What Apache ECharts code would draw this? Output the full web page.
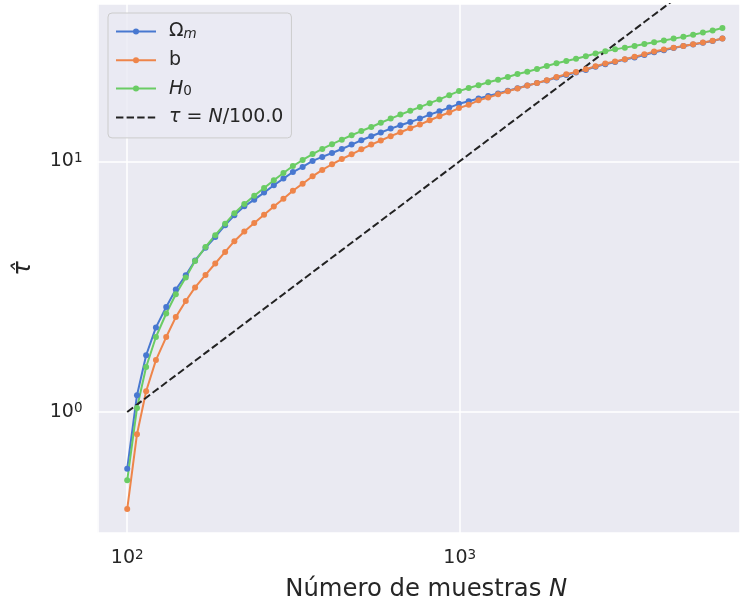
<!DOCTYPE html>
<html>
<head>
<meta charset="utf-8">
<script src="https://cdn.jsdelivr.net/npm/echarts@6/dist/echarts.min.js"></script>
<style>
  html, body { margin: 0; padding: 0; background: #ffffff; }
  #chart { width: 740px; height: 603px; }
</style>
</head>
<body>
<div id="chart"></div>
<script>
// Chain lengths N at which the autocorrelation time was estimated (log-spaced)
const sampleSizes = [100, 107, 114, 122, 131, 140, 150, 160, 172, 184, 197, 210, 225, 241, 258, 276,
  295, 315, 337, 361, 386, 413, 442, 473, 506, 542, 579, 620, 663, 710, 759, 812, 869, 930, 995,
  1064, 1139, 1218, 1304, 1395, 1492, 1597, 1708, 1828, 1955, 2092, 2238, 2395, 2562, 2741, 2933,
  3138, 3357, 3592, 3843, 4112, 4399, 4707, 5036, 5388, 5764, 6167];

// Estimated autocorrelation time for each parameter
const tauOmegaM = [0.594, 1.166, 1.683, 2.174, 2.624, 3.08, 3.51, 4.02, 4.52, 4.99, 5.56, 6.09,
  6.61, 7.03, 7.5, 8.02, 8.53, 9.06, 9.49, 10.03, 10.41, 10.79, 11.19, 11.66, 12.13, 12.59, 13.02,
  13.5, 13.92, 14.35, 14.8, 15.35, 15.83, 16.37, 16.95, 17.35, 17.8, 18.2, 18.65, 19.1, 19.55,
  20.05, 20.5, 21.0, 21.6, 22.1, 22.6, 23.15, 23.8, 24.4, 24.9, 25.45, 25.95, 26.55, 27.2, 27.75,
  28.3, 28.8, 29.25, 29.7, 30.2, 30.85];

const tauB = [0.41, 0.815, 1.21, 1.61, 1.99, 2.39, 2.77, 3.14, 3.52, 3.91, 4.35, 4.8, 5.25, 5.67,
  6.12, 6.6, 7.09, 7.63, 8.14, 8.71, 9.24, 9.73, 10.21, 10.66, 11.16, 11.66, 12.1, 12.59, 13.06,
  13.55, 14.01, 14.58, 15.12, 15.65, 16.3, 16.8, 17.5, 17.95, 18.5, 19.01, 19.5, 20.04, 20.53,
  21.04, 21.68, 22.23, 22.71, 23.28, 23.95, 24.55, 25.0, 25.55, 26.1, 26.7, 27.4, 27.9, 28.4,
  28.85, 29.3, 29.75, 30.25, 30.9];

const tauH0 = [0.534, 1.037, 1.512, 1.991, 2.47, 2.95, 3.44, 4.0, 4.55, 5.07, 5.64, 6.2, 6.76,
  7.28, 7.82, 8.4, 8.98, 9.57, 10.12, 10.68, 11.2, 11.7, 12.2, 12.7, 13.2, 13.7, 14.25, 14.8,
  15.35, 15.9, 16.45, 17.05, 17.65, 18.35, 19.05, 19.6, 20.1, 20.65, 21.15, 21.7, 22.3, 22.75,
  23.35, 24.0, 24.6, 25.1, 25.65, 26.25, 26.9, 27.45, 27.95, 28.4, 28.85, 29.35, 29.85, 30.35,
  30.85, 31.35, 31.95, 32.6, 33.25, 34.0];

// Reference line tau = N / divisor
const refDivisor = 100.0;

// Decade tick labels: value and exponent
const xTickValues = [100, 1000];
const xTickExps = ['2', '3'];
const yTickValues = [1, 10];
const yTickExps = ['0', '1'];

// Legend labels (rich text)
const legendLabels = {
  omega: '{r|Ω}{subi|m}',
  b: '{r|b}',
  h0: '{it|H}{sub|0}',
  ref: '{it|τ}{r| = }{it|N}{r|/100.0}'
};

const COLORS = { blue: '#4878D0', orange: '#EE854A', green: '#6ACC64', ref: '#222222' };
const FONT = 'DejaVu Sans';
const TEXT = '#262626';

function decadeFormatter(values, exps) {
  return function (v) {
    for (let i = 0; i < values.length; i++) {
      if (Math.abs(Math.log10(v) - Math.log10(values[i])) < 1e-6) {
        return '{b|10}{sup|' + exps[i] + '}';
      }
    }
    return '';
  };
}

const tickRich = {
  b: { fontSize: 19, lineHeight: 20, color: TEXT, fontFamily: FONT },
  sup: { fontSize: 13.5, lineHeight: 12, verticalAlign: 'top', color: TEXT, fontFamily: FONT }
};

const pairs = (ys) => sampleSizes.map((n, i) => [n, ys[i]]);

function paramSeries(name, color, ys) {
  return {
    name: name,
    type: 'line',
    data: pairs(ys),
    symbol: 'circle',
    symbolSize: 6,
    showSymbol: true,
    lineStyle: { color: color, width: 2 },
    itemStyle: { color: color },
    emphasis: { disabled: true },
    animation: false
  };
}

const chart = echarts.init(document.getElementById('chart'), null, { renderer: 'canvas' });

chart.setOption({
  backgroundColor: '#ffffff',
  animation: false,
  textStyle: { fontFamily: FONT },
  grid: {
    show: true,
    left: 97.5,
    top: 4,
    width: 642.5,
    height: 529,
    containLabel: false,
    outerBoundsMode: 'none',
    backgroundColor: '#EAEAF2',
    borderWidth: 0
  },
  xAxis: {
    type: 'log',
    logBase: 10,
    min: 81.4,
    max: 6966,
    axisLine: { show: false },
    axisTick: { show: false },
    minorTick: { show: false },
    splitLine: { show: true, lineStyle: { color: '#ffffff', width: 1.5 } },
    axisLabel: {
      margin: 15,
      formatter: decadeFormatter(xTickValues, xTickExps),
      rich: tickRich
    },
    name: '{r|Número de muestras }{it|N}',
    nameLocation: 'middle',
    nameGap: 43,
    nameTextStyle: {
      padding: [0, 0, 0, 15],
      rich: {
        r: { fontSize: 24.3, lineHeight: 28, color: TEXT, fontFamily: FONT },
        it: { fontSize: 24.3, lineHeight: 28, color: TEXT, fontFamily: FONT, fontStyle: 'italic' }
      }
    }
  },
  yAxis: {
    type: 'log',
    logBase: 10,
    min: 0.329,
    max: 42.4,
    axisLine: { show: false },
    axisTick: { show: false },
    minorTick: { show: false },
    splitLine: { show: true, lineStyle: { color: '#ffffff', width: 1.5 } },
    axisLabel: {
      margin: 15,
      formatter: decadeFormatter(yTickValues, yTickExps),
      rich: tickRich
    },
    name: 'τ\u0302',
    nameLocation: 'middle',
    nameRotate: 90,
    nameGap: 62,
    nameTextStyle: { fontSize: 24, color: TEXT, fontFamily: FONT, fontStyle: 'italic' }
  },
  legend: {
    left: 108,
    top: 13,
    orient: 'vertical',
    padding: [9, 8, 11, 7],
    itemWidth: 40,
    itemHeight: 7.5,
    itemGap: 9.3,
    backgroundColor: 'rgba(234,234,242,0.8)',
    borderColor: '#cccccc',
    borderWidth: 1,
    borderRadius: 4,
    selectedMode: false,
    data: ['omega', 'b', 'h0', { name: 'ref', itemStyle: { opacity: 0 } }],
    formatter: (name) => legendLabels[name],
    textStyle: {
      padding: [0, 0, 0, 8],
      rich: {
        r: { fontSize: 19, lineHeight: 20, color: TEXT, fontFamily: FONT },
        it: { fontSize: 19, lineHeight: 20, color: TEXT, fontFamily: FONT, fontStyle: 'italic' },
        sub: { fontSize: 13.5, lineHeight: 10, verticalAlign: 'bottom', color: TEXT, fontFamily: FONT },
        subi: { fontSize: 13.5, lineHeight: 10, verticalAlign: 'bottom', color: TEXT, fontFamily: FONT, fontStyle: 'italic' }
      }
    }
  },
  series: [
    paramSeries('omega', COLORS.blue, tauOmegaM),
    paramSeries('b', COLORS.orange, tauB),
    paramSeries('h0', COLORS.green, tauH0),
    {
      name: 'ref',
      type: 'line',
      data: sampleSizes.map((n) => [n, n / refDivisor]),
      symbol: 'none',
      showSymbol: false,
      clip: true,
      lineStyle: { color: COLORS.ref, width: 2, type: [7.4, 3.2] },
      itemStyle: { color: COLORS.ref },
      emphasis: { disabled: true },
      animation: false
    }
  ]
});
</script>
</body>
</html>
